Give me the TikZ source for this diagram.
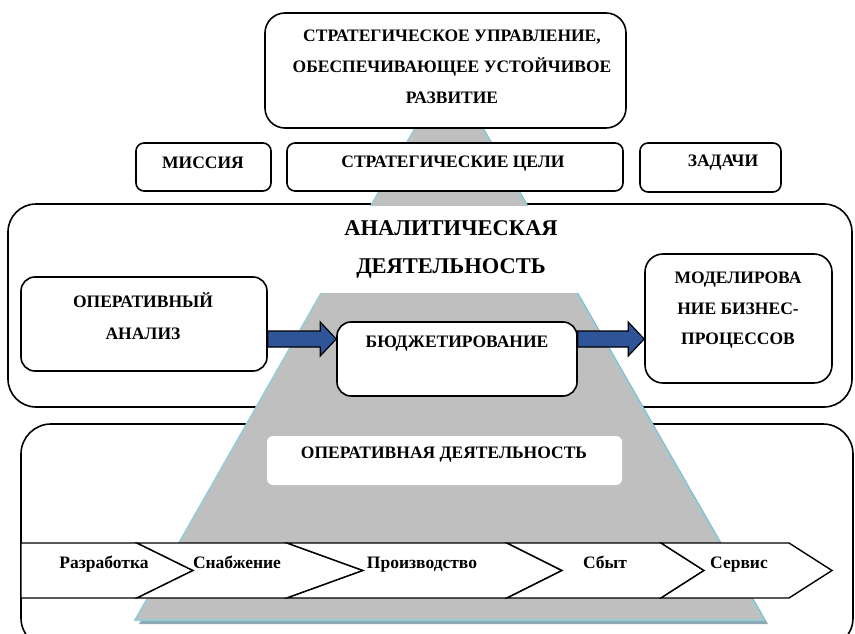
\documentclass[tikz,border=0pt]{standalone}
\usepackage{fontspec}
\setmainfont{Liberation Serif}
\usetikzlibrary{calc}
\definecolor{trapgray}{HTML}{BFBFBF}
\definecolor{trapedge}{HTML}{92CDDC}
\definecolor{trapshade}{HTML}{8EA9B3}
\definecolor{arrowblue}{HTML}{2E5597}
\newcommand{\blockarrow}[2]{%
  \draw[bluearrow] ($(#1)+(0,-8)$) -- ($(#2)+(-16,-8)$) -- ($(#2)+(-16,-17)$) -- (#2)
    -- ($(#2)+(-16,17)$) -- ($(#2)+(-16,8)$) -- ($(#1)+(0,8)$) -- cycle;}

\begin{document}
\begin{tikzpicture}[x=1pt,y=-1pt,line width=1.6pt,
  box/.style={draw,fill=white,rounded corners=#1,inner sep=0pt},
  box/.default=8pt,
  lbl/.style={font=\bfseries\fontsize{17.5}{31}\selectfont,align=center,inner sep=0pt},
  bluearrow/.style={fill=arrowblue,draw=black,line width=1.2pt,line join=miter},
  chevron/.style={draw,fill=white,line width=1.4pt}]
\clip (0,0) rectangle (855,634);
% analytic and operational areas
\node[box=28pt,minimum width=844,minimum height=203] (anbox) at (430,305.5) {};
\node[box=30pt,minimum width=832,minimum height=224] (opbox) at (437,536) {};
% pyramid
\fill[trapshade] (435,104) -- (470,104) -- (768,624) -- (139,624) -- cycle;
\fill[trapgray] (431,100) -- (466,100) -- (764,620) -- (135,620) -- cycle;
\draw[trapedge,line width=1.5pt] (431,100) -- (135,620) -- (764,620) -- (466,100);
\fill[white] (300,206) rectangle (600,293);
\node[lbl,font=\bfseries\fontsize{22.5}{38}\selectfont] (antitle) at (451,249) {АНАЛИТИЧЕСКАЯ\\ДЕЯТЕЛЬНОСТЬ};
\node[fill=white,rounded corners=6pt,minimum width=355,minimum height=49] (opback) at (444.5,460.5) {};
\node[lbl] (optitle) at (444,455) {ОПЕРАТИВНАЯ ДЕЯТЕЛЬНОСТЬ};
% strategy
\node[box=20pt,minimum width=361,minimum height=115] (strat) at (445.5,70.5) {};
\node[lbl] (strattext) at (452,67) {СТРАТЕГИЧЕСКОЕ УПРАВЛЕНИЕ,\\ОБЕСПЕЧИВАЮЩЕЕ УСТОЙЧИВОЕ\\РАЗВИТИЕ};
\node[box,minimum width=135,minimum height=48] (mission) at (203.5,167) {};
\node[lbl] (missiontext) at (203,163) {МИССИЯ};
\node[box,minimum width=336,minimum height=48] (goals) at (455,167) {};
\node[lbl] (goalstext) at (453,164) {СТРАТЕГИЧЕСКИЕ ЦЕЛИ};
\node[box,minimum width=141,minimum height=49] (tasks) at (710.5,167.5) {};
\node[lbl] (taskstext) at (723,163) {ЗАДАЧИ};
% analytic boxes
\node[box=14pt,minimum width=246,minimum height=94] (opan) at (144,324) {};
\node[lbl,font=\bfseries\fontsize{17.5}{32}\selectfont] (opantext) at (143,316) {ОПЕРАТИВНЫЙ\\АНАЛИЗ};
\node[box=14pt,minimum width=240,minimum height=74] (budget) at (457,359) {};
\node[lbl] (budgettext) at (457,344) {БЮДЖЕТИРОВАНИЕ};
\node[box=18pt,minimum width=187,minimum height=129] (model) at (738.5,318.5) {};
\node[lbl,font=\bfseries\fontsize{17.5}{30.5}\selectfont] (modeltext) at (738,310.5) {МОДЕЛИРОВА\\НИЕ БИЗНЕС-\\ПРОЦЕССОВ};
\coordinate (a1s) at (opan.east |- 0,339);
\coordinate (a1e) at (budget.west |- 0,339);
\coordinate (a2s) at (budget.east |- 0,339);
\coordinate (a2e) at (model.west |- 0,339);
\blockarrow{a1s}{a1e}
\blockarrow{a2s}{a2e}
% value chain
\foreach \la/\lt/\ra/\rt in {21/21/137/193,137/193/287/363,287/363/507/562,507/562/661/704,661/704/789/832}
  \draw[chevron] (\la,543) -- (\ra,543) -- (\rt,570.5) -- (\ra,598) -- (\la,598) -- (\lt,570.5) -- cycle;
\foreach \x/\t/\n in {104/Разработка/dev,237/Снабжение/supply,422/Производство/prod,605/Сбыт/sales,739/Сервис/service}
  \node[lbl,anchor=base] (\n) at (\x,568) {\t};
\end{tikzpicture}
\end{document}
